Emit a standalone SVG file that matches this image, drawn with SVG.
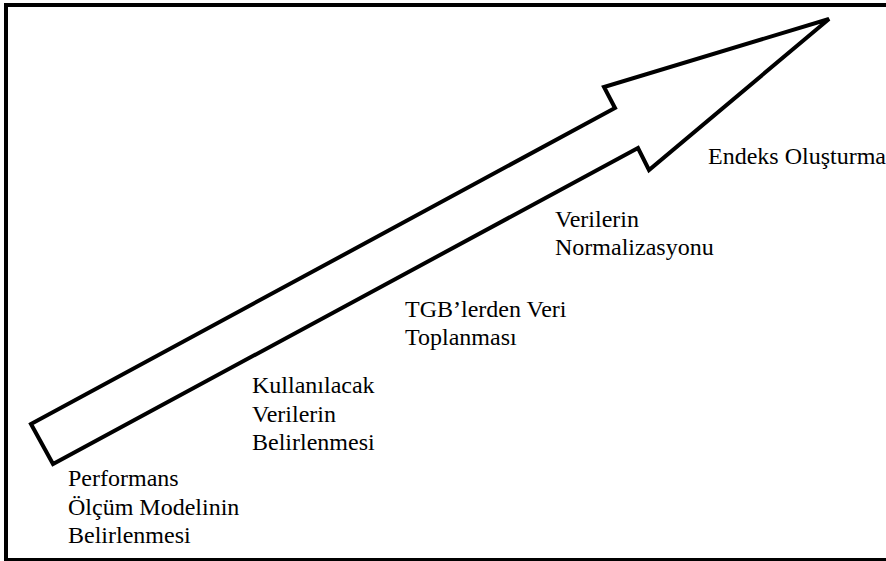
<svg xmlns="http://www.w3.org/2000/svg" width="886" height="561" viewBox="0 0 886 561">
<style>
.lbl{font-family:'Liberation Serif','Times New Roman',serif;font-size:24px;fill:#000}
.frame{fill:none;stroke:#000;stroke-width:4}
.arrow{fill:#fff;stroke:#000;stroke-width:4;stroke-linejoin:miter}
</style>
<rect width="886" height="561" fill="#fff"/>
<rect class="frame" x="6" y="5" width="900" height="555"/>
<g id="arrow">
<polygon class="arrow" points="31,424 615,108 604,87 829,19 649,170 638,148 53,464"/>
</g>
<g id="step1"><text class="lbl" x="68" y="486">Performans</text><text class="lbl" x="68" y="515">Ölçüm Modelinin</text><text class="lbl" x="68" y="543">Belirlenmesi</text></g>
<g id="step2"><text class="lbl" x="252" y="393">Kullanılacak</text><text class="lbl" x="252" y="422">Verilerin</text><text class="lbl" x="252" y="450">Belirlenmesi</text></g>
<g id="step3"><text class="lbl" x="405" y="317">TGB’lerden Veri</text><text class="lbl" x="405" y="345">Toplanması</text></g>
<g id="step4"><text class="lbl" x="555" y="227">Verilerin</text><text class="lbl" x="555" y="255">Normalizasyonu</text></g>
<g id="step5"><text class="lbl" x="708" y="164">Endeks Oluşturma</text></g>
<g id="connectors"></g>
</svg>
